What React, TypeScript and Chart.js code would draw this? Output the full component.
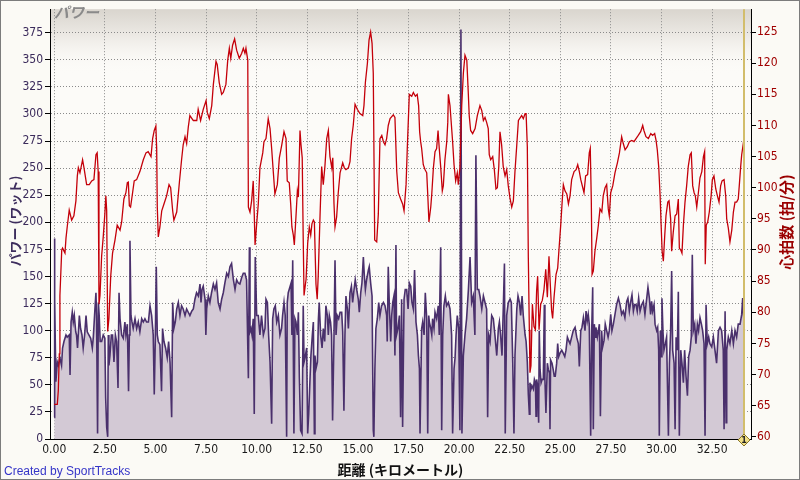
import React, { useEffect, useRef } from "react";
import { Chart, registerables } from "chart.js";

Chart.register(...registerables);

// ---- data (distance km, value) ----
const hrSamples: [number, number][] = [
  [0.00, 65.2], [0.15, 65.2], [0.20, 67.4], [0.25, 73.3], [0.28, 82.7], [0.37, 90.0], [0.41, 90.3], [0.53, 89.5],
  [0.58, 91.9], [0.64, 93.7], [0.74, 96.4], [0.86, 94.8], [0.97, 95.5], [1.07, 97.9], [1.14, 101.9], [1.19, 103.2],
  [1.27, 102.4], [1.40, 104.5], [1.47, 103.2], [1.60, 100.5], [1.73, 100.5], [1.85, 101.1], [1.96, 101.3], [2.06, 105.3],
  [2.12, 105.6], [2.17, 102.6], [2.21, 81.3], [2.26, 82.7], [2.34, 89.0], [2.42, 92.1], [2.50, 95.8], [2.55, 98.7],
  [2.59, 96.3], [2.64, 76.9], [2.70, 79.0], [2.79, 85.8], [2.88, 89.5], [3.00, 91.6], [3.11, 94.0], [3.25, 93.2],
  [3.33, 94.5], [3.44, 98.2], [3.54, 99.2], [3.61, 100.8], [3.66, 100.9], [3.71, 97.1], [3.77, 96.9], [3.87, 99.2],
  [3.95, 101.1], [4.07, 101.3], [4.23, 102.6], [4.40, 104.5], [4.53, 105.6], [4.64, 105.8], [4.78, 105.0], [4.86, 107.9],
  [4.94, 109.2], [5.02, 109.9], [5.06, 106.3], [5.09, 96.9], [5.14, 92.1], [5.22, 93.7], [5.31, 96.3], [5.42, 97.4],
  [5.55, 98.7], [5.67, 100.5], [5.75, 100.0], [5.85, 96.3], [5.91, 94.8], [6.05, 96.1], [6.18, 100.8], [6.29, 104.5],
  [6.37, 106.9], [6.46, 108.2], [6.54, 107.1], [6.62, 109.7], [6.70, 111.6], [6.87, 110.8], [7.04, 110.8], [7.11, 112.6],
  [7.23, 110.8], [7.36, 112.6], [7.50, 114.0], [7.56, 112.1], [7.66, 111.1], [7.78, 113.2], [7.86, 116.6], [7.99, 120.3],
  [8.05, 119.8], [8.15, 116.9], [8.27, 115.0], [8.35, 115.3], [8.48, 116.6], [8.57, 120.5], [8.65, 122.4], [8.72, 120.8],
  [8.81, 122.9], [8.91, 123.9], [9.01, 122.1], [9.14, 120.8], [9.26, 121.6], [9.34, 122.4], [9.42, 121.6], [9.47, 122.4],
  [9.56, 120.5], [9.59, 96.9], [9.67, 96.1], [9.75, 97.9], [9.83, 101.1], [9.88, 95.8], [9.92, 90.8], [10.00, 94.2],
  [10.08, 97.4], [10.16, 103.2], [10.30, 105.6], [10.36, 107.4], [10.46, 107.9], [10.57, 111.1], [10.66, 109.5], [10.74, 106.3],
  [10.82, 102.6], [10.90, 99.0], [11.02, 100.5], [11.12, 104.8], [11.24, 106.9], [11.35, 109.0], [11.45, 107.9], [11.51, 101.1],
  [11.61, 100.8], [11.68, 97.4], [11.74, 93.7], [11.81, 92.4], [11.86, 90.8], [11.94, 95.3], [12.01, 99.5], [12.06, 98.5],
  [12.14, 109.2], [12.19, 106.9], [12.25, 104.8], [12.30, 91.6], [12.34, 82.7], [12.44, 85.3], [12.52, 91.1], [12.60, 93.7],
  [12.67, 92.4], [12.73, 94.2], [12.80, 94.8], [12.85, 94.5], [12.93, 84.5], [12.99, 82.1], [13.04, 85.8], [13.13, 95.5],
  [13.21, 103.4], [13.29, 100.5], [13.37, 103.4], [13.46, 107.9], [13.54, 109.2], [13.62, 105.0], [13.71, 103.2], [13.76, 104.8],
  [13.82, 97.4], [13.87, 93.7], [13.95, 95.3], [14.03, 99.2], [14.12, 102.4], [14.25, 104.0], [14.33, 103.2], [14.41, 102.9],
  [14.53, 103.2], [14.61, 104.2], [14.69, 107.9], [14.77, 110.0], [14.86, 113.4], [14.97, 112.6], [15.10, 111.9], [15.24, 111.6],
  [15.30, 113.2], [15.37, 116.9], [15.47, 120.0], [15.55, 123.7], [15.63, 125.0], [15.70, 123.2], [15.76, 118.4], [15.83, 91.6],
  [15.93, 91.3], [16.01, 95.8], [16.09, 107.9], [16.18, 108.4], [16.26, 107.4], [16.34, 106.9], [16.42, 107.9], [16.50, 110.0],
  [16.59, 111.1], [16.75, 111.7], [16.83, 111.3], [16.92, 102.6], [17.00, 99.2], [17.11, 98.2], [17.21, 97.4], [17.28, 96.3],
  [17.38, 100.5], [17.44, 106.3], [17.54, 115.0], [17.66, 114.7], [17.74, 115.3], [17.84, 114.7], [17.93, 115.0], [18.00, 113.2],
  [18.05, 109.0], [18.10, 107.4], [18.15, 106.3], [18.23, 103.7], [18.32, 102.9], [18.40, 102.4], [18.45, 99.0], [18.51, 94.5],
  [18.60, 96.9], [18.65, 99.0], [18.73, 103.2], [18.81, 105.8], [18.89, 106.3], [18.96, 109.2], [19.02, 106.3], [19.09, 103.4],
  [19.17, 99.5], [19.22, 100.3], [19.30, 104.5], [19.39, 107.4], [19.44, 110.5], [19.47, 115.0], [19.55, 113.2], [19.68, 107.4],
  [19.75, 103.7], [19.83, 101.1], [19.91, 102.4], [19.96, 100.5], [20.04, 103.2], [20.13, 113.2], [20.21, 118.4], [20.29, 121.3],
  [20.38, 120.5], [20.45, 115.5], [20.50, 111.6], [20.57, 109.2], [20.67, 108.7], [20.79, 109.5], [20.90, 111.6], [21.03, 113.2],
  [21.12, 112.4], [21.20, 110.8], [21.28, 111.3], [21.36, 110.5], [21.44, 109.5], [21.49, 105.3], [21.56, 104.5], [21.66, 105.0],
  [21.74, 102.9], [21.82, 99.8], [21.89, 100.0], [21.96, 103.4], [22.02, 109.0], [22.10, 106.9], [22.18, 103.4], [22.27, 101.9],
  [22.35, 102.9], [22.43, 100.3], [22.51, 98.4], [22.60, 96.9], [22.68, 97.9], [22.76, 102.6], [22.85, 106.9], [22.93, 110.8],
  [23.09, 111.6], [23.17, 111.1], [23.26, 111.9], [23.31, 111.9], [23.37, 106.6], [23.42, 88.7], [23.47, 77.2], [23.50, 70.3],
  [23.55, 71.4], [23.62, 81.3], [23.70, 77.7], [23.77, 77.2], [23.83, 83.5], [23.88, 85.8], [23.95, 77.2], [24.03, 81.3],
  [24.11, 81.9], [24.19, 83.5], [24.28, 86.9], [24.36, 82.4], [24.44, 89.0], [24.52, 83.5], [24.57, 80.3], [24.62, 79.0],
  [24.69, 82.4], [24.79, 86.1], [24.87, 87.1], [24.95, 90.8], [25.02, 94.0], [25.10, 98.2], [25.15, 100.5], [25.23, 99.5],
  [25.32, 99.0], [25.40, 97.4], [25.48, 98.7], [25.56, 101.3], [25.68, 102.6], [25.78, 102.9], [25.86, 103.7], [25.94, 102.6],
  [26.01, 101.3], [26.11, 100.0], [26.17, 99.2], [26.25, 101.9], [26.35, 102.1], [26.43, 105.6], [26.48, 106.3], [26.53, 98.2],
  [26.57, 86.1], [26.63, 86.6], [26.71, 89.8], [26.80, 91.9], [26.88, 94.0], [26.96, 96.6], [27.05, 96.1], [27.12, 98.7],
  [27.21, 100.0], [27.29, 100.5], [27.37, 96.6], [27.42, 95.5], [27.49, 99.2], [27.59, 100.3], [27.70, 102.4], [27.82, 104.0],
  [27.92, 105.6], [28.03, 108.2], [28.11, 107.1], [28.20, 106.1], [28.31, 106.6], [28.41, 107.4], [28.53, 107.6], [28.64, 107.4],
  [28.74, 107.9], [28.85, 108.4], [28.97, 109.0], [29.07, 110.0], [29.13, 109.2], [29.23, 108.2], [29.35, 107.9], [29.47, 108.7],
  [29.56, 108.4], [29.66, 108.7], [29.73, 107.6], [29.79, 106.1], [29.86, 103.4], [29.93, 98.7], [29.98, 94.0], [30.03, 89.8],
  [30.09, 88.2], [30.16, 92.4], [30.22, 95.5], [30.31, 97.7], [30.37, 97.9], [30.45, 95.0], [30.50, 89.8], [30.58, 92.9],
  [30.67, 95.5], [30.75, 95.8], [30.83, 98.2], [30.88, 90.3], [30.95, 90.0], [31.01, 89.5], [31.08, 94.0], [31.16, 97.7],
  [31.24, 100.3], [31.32, 103.4], [31.41, 105.3], [31.47, 105.6], [31.54, 100.3], [31.61, 99.2], [31.67, 98.7], [31.74, 96.9],
  [31.82, 99.2], [31.90, 101.6], [31.99, 102.6], [32.07, 105.0], [32.13, 105.8], [32.16, 87.7], [32.21, 94.0], [32.28, 94.5],
  [32.36, 96.1], [32.45, 98.7], [32.51, 101.3], [32.59, 101.9], [32.68, 99.8], [32.76, 98.7], [32.84, 97.7], [32.92, 100.3],
  [32.99, 101.1], [33.09, 101.3], [33.17, 98.7], [33.22, 95.0], [33.30, 93.5], [33.38, 91.3], [33.47, 93.2], [33.55, 96.1],
  [33.63, 97.7], [33.71, 97.7], [33.79, 98.2], [33.84, 100.3], [33.91, 103.4], [33.96, 105.3], [34.04, 107.1], [34.09, 108.2],
];

const powerSamples: [number, number][] = [
  [0.00, 20], [0.01, 185], [0.03, 129], [0.08, 53], [0.15, 71], [0.20, 68], [0.28, 75], [0.36, 68], [0.41, 84], [0.48, 90],
  [0.58, 96], [0.64, 94], [0.74, 96], [0.78, 59], [0.83, 108], [0.89, 117], [0.94, 108], [0.99, 114], [1.06, 99], [1.10, 96],
  [1.15, 84], [1.24, 114], [1.30, 102], [1.37, 96], [1.43, 84], [1.50, 96], [1.57, 114], [1.63, 99], [1.71, 96], [1.80, 93],
  [1.88, 84], [1.93, 94], [2.01, 120], [2.06, 135], [2.09, 114], [2.14, 5], [2.18, 126], [2.22, 114], [2.27, 90], [2.34, 90],
  [2.42, 96], [2.50, 93], [2.54, 38], [2.59, 11], [2.64, 2], [2.67, 96], [2.70, 68], [2.75, 77], [2.82, 96], [2.88, 96],
  [2.95, 71], [3.02, 96], [3.08, 90], [3.15, 47], [3.20, 135], [3.25, 111], [3.33, 96], [3.41, 93], [3.49, 108], [3.54, 96],
  [3.61, 106], [3.67, 44], [3.71, 96], [3.74, 183], [3.79, 114], [3.84, 108], [3.90, 102], [3.99, 111], [4.07, 102], [4.15, 108],
  [4.23, 99], [4.32, 111], [4.40, 108], [4.48, 111], [4.56, 108], [4.65, 108], [4.73, 123], [4.81, 114], [4.89, 96], [4.94, 41],
  [4.99, 90], [5.04, 159], [5.09, 96], [5.14, 90], [5.22, 87], [5.30, 44], [5.35, 102], [5.42, 90], [5.50, 84], [5.58, 75],
  [5.65, 90], [5.72, 71], [5.80, 20], [5.85, 126], [5.91, 102], [5.98, 108], [6.05, 120], [6.13, 126], [6.21, 114], [6.29, 123],
  [6.37, 120], [6.46, 114], [6.54, 120], [6.62, 117], [6.70, 114], [6.79, 118], [6.87, 120], [6.95, 129], [7.03, 135], [7.12, 132],
  [7.20, 143], [7.25, 126], [7.30, 138], [7.36, 141], [7.45, 129], [7.49, 96], [7.53, 120], [7.61, 132], [7.69, 126], [7.77, 135],
  [7.86, 143], [7.94, 138], [8.02, 144], [8.10, 126], [8.19, 120], [8.27, 129], [8.35, 135], [8.43, 144], [8.52, 153], [8.60, 150],
  [8.68, 159], [8.76, 162], [8.85, 147], [8.93, 138], [9.01, 147], [9.09, 144], [9.17, 143], [9.26, 149], [9.34, 153], [9.42, 153],
  [9.50, 147], [9.59, 56], [9.64, 177], [9.67, 99], [9.72, 102], [9.77, 96], [9.83, 111], [9.88, 23], [9.93, 168], [10.00, 114],
  [10.08, 114], [10.16, 96], [10.24, 114], [10.33, 96], [10.41, 102], [10.46, 129], [10.53, 126], [10.59, 96], [10.66, 71], [10.74, 14],
  [10.79, 111], [10.85, 120], [10.92, 123], [10.99, 108], [11.07, 114], [11.15, 96], [11.23, 102], [11.28, 114], [11.35, 126], [11.41, 114],
  [11.48, 2], [11.51, 126], [11.56, 135], [11.70, 144], [11.74, 96], [11.78, 165], [11.84, 5], [11.89, 111], [11.94, 108], [12.01, 96],
  [12.06, 117], [12.11, 56], [12.17, 8], [12.24, 5], [12.30, 123], [12.34, 71], [12.39, 75], [12.47, 84], [12.52, 5], [12.57, 23],
  [12.63, 53], [12.68, 77], [12.75, 96], [12.80, 108], [12.85, 5], [12.88, 77], [12.93, 65], [13.00, 71], [13.05, 111], [13.09, 126],
  [13.16, 96], [13.23, 84], [13.29, 102], [13.36, 90], [13.42, 123], [13.49, 114], [13.54, 96], [13.59, 114], [13.65, 108], [13.70, 96],
  [13.75, 17], [13.82, 96], [13.87, 165], [13.92, 96], [13.98, 114], [14.05, 111], [14.12, 117], [14.20, 117], [14.25, 99], [14.31, 26],
  [14.36, 96], [14.41, 132], [14.48, 120], [14.53, 102], [14.61, 135], [14.68, 141], [14.74, 126], [14.81, 138], [14.87, 147], [14.94, 138],
  [15.02, 129], [15.07, 117], [15.14, 135], [15.20, 144], [15.27, 168], [15.32, 150], [15.37, 138], [15.43, 147], [15.52, 156], [15.56, 159],
  [15.63, 144], [15.70, 132], [15.76, 8], [15.79, 2], [15.84, 65], [15.89, 102], [15.96, 111], [16.03, 126], [16.09, 114], [16.17, 123],
  [16.26, 126], [16.34, 123], [16.42, 114], [16.45, 90], [16.50, 159], [16.55, 126], [16.62, 90], [16.67, 114], [16.72, 126], [16.78, 132],
  [16.83, 77], [16.88, 179], [16.91, 96], [16.98, 102], [17.05, 114], [17.11, 20], [17.16, 129], [17.21, 11], [17.28, 129], [17.34, 138],
  [17.41, 138], [17.48, 120], [17.54, 144], [17.61, 141], [17.67, 126], [17.74, 120], [17.80, 156], [17.87, 108], [17.94, 96], [17.99, 77],
  [18.04, 65], [18.07, 5], [18.15, 102], [18.20, 108], [18.27, 96], [18.33, 135], [18.40, 111], [18.45, 5], [18.50, 114], [18.53, 108],
  [18.60, 102], [18.65, 96], [18.69, 111], [18.76, 102], [18.81, 117], [18.89, 111], [18.97, 123], [19.02, 96], [19.09, 177], [19.14, 8],
  [19.19, 96], [19.25, 123], [19.32, 132], [19.38, 123], [19.47, 126], [19.55, 120], [19.63, 96], [19.68, 5], [19.75, 65], [19.80, 75],
  [19.85, 96], [19.91, 114], [19.98, 102], [20.04, 8], [20.09, 378], [20.14, 5], [20.21, 77], [20.29, 96], [20.37, 111], [20.46, 138],
  [20.54, 168], [20.62, 126], [20.70, 132], [20.78, 96], [20.83, 262], [20.90, 138], [20.97, 138], [21.03, 132], [21.12, 120], [21.20, 132],
  [21.28, 126], [21.36, 120], [21.41, 20], [21.46, 96], [21.53, 90], [21.61, 114], [21.69, 111], [21.77, 96], [21.86, 77], [21.94, 102],
  [21.99, 108], [22.05, 96], [22.12, 77], [22.19, 126], [22.24, 162], [22.28, 5], [22.35, 114], [22.43, 126], [22.52, 129], [22.58, 126],
  [22.65, 71], [22.71, 5], [22.76, 77], [22.85, 120], [22.91, 132], [22.98, 126], [23.04, 114], [23.11, 132], [23.17, 114], [23.26, 96],
  [23.31, 90], [23.37, 71], [23.42, 41], [23.47, 23], [23.50, 52], [23.55, 46], [23.60, 49], [23.67, 46], [23.72, 55], [23.77, 52],
  [23.80, 21], [23.83, 55], [23.88, 49], [23.93, 15], [23.96, 100], [24.00, 64], [24.05, 52], [24.10, 55], [24.16, 55], [24.21, 124],
  [24.24, 55], [24.29, 24], [24.36, 70], [24.41, 64], [24.46, 61], [24.49, 9], [24.52, 73], [24.59, 70], [24.65, 64], [24.70, 58],
  [24.75, 58], [24.82, 70], [24.87, 88], [24.92, 76], [24.98, 79], [25.07, 82], [25.15, 79], [25.22, 76], [25.28, 82], [25.35, 94],
  [25.41, 91], [25.48, 88], [25.56, 94], [25.64, 100], [25.73, 103], [25.81, 94], [25.89, 88], [25.94, 67], [26.01, 100], [26.07, 103],
  [26.14, 112], [26.22, 100], [26.27, 118], [26.33, 109], [26.38, 115], [26.43, 106], [26.50, 3], [26.55, 100], [26.60, 140], [26.63, 9],
  [26.68, 106], [26.73, 94], [26.76, 103], [26.83, 94], [26.88, 100], [26.93, 106], [26.98, 21], [27.04, 100], [27.09, 85], [27.16, 91],
  [27.22, 106], [27.29, 100], [27.36, 94], [27.42, 100], [27.49, 115], [27.55, 100], [27.62, 106], [27.70, 115], [27.78, 124], [27.87, 130],
  [27.95, 124], [28.03, 115], [28.11, 118], [28.19, 112], [28.28, 127], [28.34, 130], [28.41, 118], [28.48, 127], [28.54, 133], [28.61, 118],
  [28.67, 124], [28.74, 124], [28.80, 118], [28.87, 130], [28.94, 118], [29.02, 124], [29.10, 127], [29.18, 115], [29.27, 130], [29.33, 140],
  [29.40, 130], [29.46, 115], [29.51, 127], [29.56, 118], [29.63, 124], [29.68, 106], [29.76, 100], [29.81, 103], [29.86, 82], [29.89, 3],
  [29.94, 100], [29.99, 76], [30.02, 130], [30.07, 100], [30.12, 82], [30.19, 88], [30.25, 94], [30.34, 3], [30.39, 70], [30.45, 100],
  [30.50, 155], [30.55, 82], [30.62, 70], [30.67, 9], [30.72, 94], [30.78, 82], [30.83, 136], [30.88, 3], [30.95, 82], [31.01, 70],
  [31.08, 52], [31.14, 82], [31.21, 58], [31.28, 40], [31.34, 76], [31.41, 82], [31.47, 94], [31.52, 170], [31.57, 100], [31.64, 106],
  [31.70, 88], [31.77, 106], [31.83, 100], [31.90, 112], [31.97, 106], [32.03, 100], [32.10, 88], [32.15, 3], [32.20, 124], [32.26, 88],
  [32.33, 94], [32.39, 88], [32.48, 85], [32.56, 94], [32.64, 82], [32.72, 70], [32.81, 100], [32.89, 103], [32.97, 100], [33.05, 82],
  [33.09, 9], [33.14, 118], [33.19, 15], [33.22, 82], [33.30, 94], [33.38, 88], [33.47, 100], [33.55, 88], [33.63, 100], [33.71, 94],
  [33.79, 106], [33.88, 106], [33.96, 115], [34.01, 130], [34.06, 112], [34.09, 100],
];

const lapMarkersKm = [34.09];
const lapLabels = ["1"];

const xRange = [-0.21, 34.42];
const powerRange = [0, 396.7];
const hrRange = [59.64, 128.68];
const xStep = 2.5;
const powerStep = 25;
const hrStep = 5;

const titleTopLeft = "パワー";
const powerAxisTitle = "パワー (ワット)";
const hrAxisTitle = "心拍数 (拍/分)";
const xAxisTitle = "距離 (キロメートル)";
const creditText = "Created by SportTracks";

const NUM_FONT = "'Liberation Sans Narrow', 'DejaVu Sans Condensed', 'Arial Narrow', sans-serif";
const CJK_FONT = "'Noto Sans CJK JP', 'Noto Sans', sans-serif";

const decorPlugin = {
  id: "decor",
  beforeDraw(chart: any) {
    const { ctx, chartArea: a, width, height } = chart;
    ctx.save();
    ctx.fillStyle = "#fbfaf5";
    ctx.fillRect(0, 0, width, height);
    ctx.fillStyle = "#fcfbf8";
    ctx.fillRect(a.left, a.top, a.right - a.left, a.bottom - a.top);
    const g = ctx.createLinearGradient(0, a.top, 0, a.top + 65);
    g.addColorStop(0, "#d9d5ce");
    g.addColorStop(0.4, "#ece9e4");
    g.addColorStop(1, "rgba(252,251,248,0)");
    ctx.fillStyle = g;
    ctx.fillRect(a.left, a.top, a.right - a.left, 65);
    ctx.restore();
  },
  afterDatasetsDraw(chart: any) {
    const { ctx, chartArea: a, scales } = chart;
    ctx.save();
    ctx.strokeStyle = "#d2bd6c";
    ctx.lineWidth = 2;
    lapMarkersKm.forEach((km) => {
      const x = Math.round(scales.x.getPixelForValue(km));
      ctx.beginPath();
      ctx.moveTo(x, a.top);
      ctx.lineTo(x, a.bottom);
      ctx.stroke();
    });
    ctx.restore();
  },
  afterDraw(chart: any) {
    const { ctx, chartArea: a, scales, width, height } = chart;
    ctx.save();
    // lap diamonds
    lapMarkersKm.forEach((km, i) => {
      const x = Math.round(scales.x.getPixelForValue(km));
      const y = a.bottom + 1;
      const r = 6;
      ctx.beginPath();
      ctx.moveTo(x, y - r);
      ctx.lineTo(x + r, y);
      ctx.lineTo(x, y + r);
      ctx.lineTo(x - r, y);
      ctx.closePath();
      ctx.fillStyle = "#f1df86";
      ctx.fill();
      ctx.strokeStyle = "#8a7628";
      ctx.lineWidth = 1;
      ctx.stroke();
      ctx.fillStyle = "#222";
      ctx.font = "bold 8px 'DejaVu Sans', sans-serif";
      ctx.textAlign = "center";
      ctx.textBaseline = "middle";
      ctx.fillText(lapLabels[i], x, y + 0.5);
    });
    // top-left title
    ctx.fillStyle = "#8a8a8a";
    ctx.font = "italic bold 15px " + CJK_FONT;
    ctx.textAlign = "left";
    ctx.textBaseline = "middle";
    ctx.fillText(titleTopLeft, a.left + 4, 12);
    // left axis title
    ctx.save();
    ctx.translate(15, 221);
    ctx.rotate(-Math.PI / 2);
    ctx.fillStyle = "#3d2d5d";
    ctx.font = "bold 13px " + CJK_FONT;
    ctx.textAlign = "center";
    ctx.textBaseline = "middle";
    ctx.fillText(powerAxisTitle, 0, 0);
    ctx.restore();
    // right axis title
    ctx.save();
    ctx.translate(786, 222);
    ctx.rotate(-Math.PI / 2);
    ctx.fillStyle = "#9a0000";
    ctx.font = "bold 15px " + CJK_FONT;
    ctx.textAlign = "center";
    ctx.textBaseline = "middle";
    ctx.fillText(hrAxisTitle, 0, 0);
    ctx.restore();
    // x axis title
    ctx.fillStyle = "#111";
    ctx.font = "bold 14px " + CJK_FONT;
    ctx.textAlign = "center";
    ctx.textBaseline = "middle";
    ctx.fillText(xAxisTitle, (a.left + a.right) / 2, 470);
    // credit
    ctx.fillStyle = "#3535c8";
    ctx.font = "12px 'Liberation Sans', Arial, sans-serif";
    ctx.textAlign = "left";
    ctx.fillText(creditText, 4, 472);
    // frame
    ctx.strokeStyle = "#7c7c7c";
    ctx.lineWidth = 1;
    ctx.strokeRect(0.5, 0.5, width - 1, height - 1);
    ctx.restore();
  },
};

export default function App() {
  const ref = useRef<HTMLCanvasElement | null>(null);

  useEffect(() => {
    if (!ref.current) return;
    const chart = new Chart(ref.current, {
      type: "line",
      data: {
        datasets: [
          {
            label: "心拍数",
            data: hrSamples.map(([x, y]) => ({ x, y })),
            yAxisID: "y1",
            borderColor: "#c4000a",
            borderWidth: 1.3,
            pointRadius: 0,
            fill: false,
            order: 0,
          },
          {
            label: "パワー",
            data: powerSamples.map(([x, y]) => ({ x, y })),
            yAxisID: "y",
            borderColor: "#4a306c",
            borderWidth: 1.6,
            backgroundColor: "#d3c9d5",
            pointRadius: 0,
            fill: "origin",
            order: 1,
          },
        ],
      },
      options: {
        responsive: false,
        animation: false,
        events: [],
        layout: { padding: { top: 2, left: 0, right: 0, bottom: 0 } },
        plugins: { legend: { display: false }, tooltip: { enabled: false }, title: { display: false } },
        elements: { line: { tension: 0 }, point: { radius: 0 } },
        scales: {
          x: {
            type: "linear",
            min: xRange[0],
            max: xRange[1],
            afterFit: (s: any) => { s.height = 41; },
            ticks: {
              stepSize: xStep,
              includeBounds: false,
              autoSkip: false,
              maxRotation: 0,
              padding: 4,
              color: "#1a1a1a",
              font: { family: NUM_FONT, size: 12 },
              callback: (v: any) => Number(v).toFixed(2),
            },
            grid: { color: "#8a8a8a", lineWidth: 1, drawTicks: false },
            border: { display: true, color: "#000", width: 1, dash: [1, 2] },
          },
          y: {
            type: "linear",
            position: "left",
            min: powerRange[0],
            max: powerRange[1],
            afterFit: (s: any) => { s.width = 50; },
            ticks: {
              stepSize: powerStep,
              includeBounds: false,
              padding: 2,
              color: "#3b2b5b",
              font: { family: NUM_FONT, size: 12 },
            },
            grid: { color: "#8a8a8a", lineWidth: 1, tickColor: "#000", tickLength: 5, tickBorderDash: [] },
            border: { display: true, color: "#000", width: 1, dash: [1, 2] },
          },
          y1: {
            type: "linear",
            position: "right",
            min: hrRange[0],
            max: hrRange[1],
            afterFit: (s: any) => { s.width = 49; },
            ticks: {
              stepSize: hrStep,
              includeBounds: false,
              padding: 1,
              color: "#a00000",
              font: { family: NUM_FONT, size: 12 },
            },
            grid: { drawOnChartArea: false, tickColor: "#000", tickLength: 5, lineWidth: 1 },
            border: { display: true, color: "#000", width: 1 },
          },
        },
      },
      plugins: [decorPlugin],
    } as any);
    return () => chart.destroy();
  }, []);

  return (
    <div style={{ position: "fixed", left: 0, top: 0, width: 800, height: 480 }}>
      <canvas ref={ref} width={800} height={480} style={{ display: "block", width: 800, height: 480 }} />
    </div>
  );
}
